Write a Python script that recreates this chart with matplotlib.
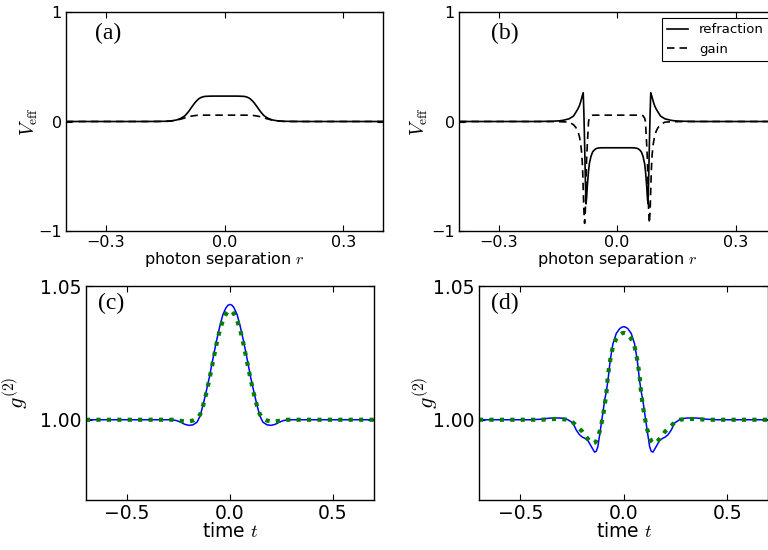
import numpy as np
import matplotlib
matplotlib.use("Agg")
import matplotlib.pyplot as plt

plt.rcParams["mathtext.fontset"] = "cm"
plt.rcParams["font.family"] = "DejaVu Sans"

# ---- panel (a): effective potential, first case ----
r_a = [-0.40, -0.25, -0.20, -0.17, -0.15, -0.14, -0.13, -0.12, -0.11, -0.10,
       -0.095, -0.09, -0.085, -0.08, -0.075, -0.07, -0.065, -0.06, -0.055, -0.05,
       -0.04, -0.03, -0.02, 0.0, 0.02, 0.03, 0.04, 0.05, 0.055, 0.06,
       0.065, 0.07, 0.075, 0.08, 0.085, 0.09, 0.095, 0.10, 0.11, 0.12,
       0.13, 0.14, 0.15, 0.17, 0.20, 0.25, 0.40]
refr_a = [0.0, 0.0, 0.0, 0.001, 0.002, 0.004, 0.008, 0.015, 0.029, 0.052,
          0.072, 0.094, 0.120, 0.145, 0.170, 0.190, 0.207, 0.218, 0.225, 0.229,
          0.231, 0.232, 0.232, 0.232, 0.232, 0.232, 0.231, 0.229, 0.225, 0.218,
          0.207, 0.190, 0.170, 0.145, 0.120, 0.094, 0.072, 0.052, 0.029, 0.015,
          0.008, 0.004, 0.002, 0.001, 0.0, 0.0, 0.0]
gain_a = [0.0, 0.0, 0.0, 0.0, 0.001, 0.003, 0.007, 0.013, 0.022, 0.033,
          0.039, 0.044, 0.048, 0.051, 0.054, 0.056, 0.057, 0.057, 0.058, 0.058,
          0.058, 0.058, 0.058, 0.058, 0.058, 0.058, 0.058, 0.058, 0.058, 0.057,
          0.057, 0.056, 0.054, 0.051, 0.048, 0.044, 0.039, 0.033, 0.022, 0.013,
          0.007, 0.003, 0.001, 0.0, 0.0, 0.0, 0.0]

# ---- panel (b): effective potential, second case ----
r_b = [-0.40, -0.20, -0.16, -0.146, -0.135, -0.121, -0.11, -0.104, -0.099, -0.095,
       -0.092, -0.089, -0.087, -0.0855, -0.084, -0.082, -0.080, -0.0785, -0.077, -0.075,
       -0.072, -0.070, -0.066, -0.062, -0.058, -0.054, -0.049, -0.04, 0.0,
       0.04, 0.049, 0.054, 0.058, 0.062, 0.066, 0.070, 0.072,
       0.075, 0.077, 0.0785, 0.080, 0.082, 0.084, 0.0855, 0.087, 0.089, 0.092,
       0.095, 0.099, 0.104, 0.11, 0.121, 0.135, 0.146, 0.16, 0.20, 0.40]
refr_b = [0.0, 0.0, 0.003, 0.006, 0.012, 0.025, 0.050, 0.085, 0.115, 0.146,
          0.180, 0.220, 0.245, 0.262, 0.10, -0.20, -0.55, -0.752, -0.70, -0.58,
          -0.45, -0.386, -0.32, -0.28, -0.262, -0.25, -0.243, -0.24, -0.24,
          -0.24, -0.243, -0.25, -0.262, -0.28, -0.32, -0.386, -0.45,
          -0.58, -0.70, -0.752, -0.55, -0.20, 0.10, 0.262, 0.245, 0.220, 0.180,
          0.146, 0.115, 0.085, 0.050, 0.025, 0.012, 0.006, 0.003, 0.0, 0.0]
gain_b = [0.0, 0.0, -0.001, -0.002, -0.003, -0.006, -0.030, -0.055, -0.09, -0.14,
          -0.20, -0.30, -0.44, -0.62, -0.80, -0.93, -0.80, -0.56, -0.35, -0.20,
          0.0, 0.03, 0.052, 0.057, 0.058, 0.058, 0.058, 0.058, 0.058,
          0.058, 0.058, 0.058, 0.058, 0.057, 0.052, 0.03, 0.0,
          -0.20, -0.35, -0.56, -0.80, -0.93, -0.80, -0.62, -0.44, -0.30, -0.20,
          -0.14, -0.09, -0.055, -0.030, -0.006, -0.003, -0.002, -0.001, 0.0, 0.0]

# ---- panel (c): g2 vs time, first case ----
t_c = [-0.70, -0.40, -0.30, -0.28, -0.26, -0.24, -0.22, -0.20, -0.18, -0.16,
       -0.145, -0.13, -0.115, -0.10, -0.08, -0.065, -0.05, -0.035, -0.02, -0.01,
       0.0, 0.01, 0.02, 0.035, 0.05, 0.065, 0.08, 0.10, 0.115, 0.13,
       0.145, 0.16, 0.18, 0.20, 0.22, 0.24, 0.26, 0.28, 0.30, 0.40, 0.70]
g2_full_c = [1.0, 1.0, 1.0, 0.99995, 0.9997, 0.9991, 0.9983, 0.9979, 0.9981, 0.9991,
             1.0015, 1.0058, 1.0108, 1.0160, 1.0240, 1.0297, 1.0348, 1.0392, 1.0418, 1.0428,
             1.0431, 1.0428, 1.0418, 1.0392, 1.0348, 1.0297, 1.0240, 1.0160, 1.0108, 1.0058,
             1.0015, 0.9991, 0.9981, 0.9979, 0.9983, 0.9991, 0.9997, 0.99995, 1.0, 1.0, 1.0]
g2_appr_c = [1.0, 1.0, 1.0, 1.0, 0.9998, 0.9996, 0.9994, 0.9994, 0.9997, 1.0005,
             1.0020, 1.0055, 1.0100, 1.0152, 1.0228, 1.0285, 1.0334, 1.0370, 1.0395, 1.0405,
             1.0408, 1.0405, 1.0395, 1.0370, 1.0334, 1.0285, 1.0228, 1.0152, 1.0100, 1.0055,
             1.0020, 1.0005, 0.9997, 0.9994, 0.9994, 0.9996, 0.9998, 1.0, 1.0, 1.0, 1.0]

# ---- panel (d): g2 vs time, second case ----
t_d = [-0.70, -0.45, -0.40, -0.36, -0.33, -0.30, -0.28, -0.27, -0.26, -0.246,
       -0.23, -0.214, -0.20, -0.189, -0.173, -0.157, -0.148, -0.141, -0.133, -0.125,
       -0.113, -0.10, -0.092, -0.084, -0.076, -0.065, -0.052, -0.036, -0.019, -0.009,
       0.0, 0.009, 0.019, 0.036, 0.052, 0.065, 0.076, 0.084, 0.092, 0.10, 0.113,
       0.125, 0.133, 0.141, 0.148, 0.157, 0.173, 0.189, 0.20, 0.214, 0.23, 0.246,
       0.26, 0.27, 0.28, 0.30, 0.33, 0.36, 0.40, 0.45, 0.70]
g2_full_d = [1.0, 1.0, 1.0002, 1.0006, 1.0007, 1.0006, 1.0003, 1.0, 0.9995, 0.9988,
             0.9962, 0.9944, 0.9935, 0.9931, 0.9922, 0.9900, 0.9888, 0.9879, 0.9882, 0.9900,
             0.9962, 1.0031, 1.0075, 1.0106, 1.0150, 1.0225, 1.0285, 1.0323, 1.0341, 1.0346,
             1.0348, 1.0346, 1.0341, 1.0323, 1.0285, 1.0225, 1.0150, 1.0106, 1.0075, 1.0031, 0.9962,
             0.9900, 0.9882, 0.9879, 0.9888, 0.9900, 0.9922, 0.9931, 0.9935, 0.9944, 0.9962, 0.9988,
             0.9995, 1.0, 1.0003, 1.0006, 1.0007, 1.0006, 1.0002, 1.0, 1.0]
g2_appr_d = [1.0, 1.0, 1.0, 1.0002, 1.0003, 1.0002, 1.0001, 1.0, 0.9997, 0.9990,
             0.9978, 0.9966, 0.9956, 0.9943, 0.9928, 0.9915, 0.9912, 0.9914, 0.9920, 0.9935,
             0.9965, 1.0015, 1.0055, 1.0100, 1.0169, 1.0225, 1.0275, 1.0303, 1.0318, 1.0323,
             1.0325, 1.0323, 1.0318, 1.0303, 1.0275, 1.0225, 1.0169, 1.0100, 1.0055, 1.0015, 0.9965,
             0.9935, 0.9920, 0.9914, 0.9912, 0.9915, 0.9928, 0.9943, 0.9956, 0.9966, 0.9978, 0.9990,
             0.9997, 1.0, 1.0001, 1.0002, 1.0003, 1.0002, 1.0, 1.0, 1.0]

veff_ticks = [-0.3, 0.0, 0.3]
veff_yticks = [-1, 0, 1]
g2_xticks = [-0.5, 0.0, 0.5]
g2_yticks = [1.00, 1.05]

fig = plt.figure(figsize=(7.68, 5.5), dpi=100)
W, H = 768.0, 550.0


def box(left, right, top, bottom):
    return [left / W, 1 - bottom / H, (right - left) / W, (bottom - top) / H]


def style(ax, size):
    ax.tick_params(direction="in", top=True, right=True, length=4, width=0.8,
                   labelsize=size, pad=3)
    for s in ax.spines.values():
        s.set_linewidth(1.0)


ax_a = fig.add_axes(box(66, 383, 12, 231))
ax_b = fig.add_axes(box(459, 775, 12, 231))
ax_c = fig.add_axes(box(86, 374, 286, 500))
ax_d = fig.add_axes(box(479, 768.5, 286, 500))

dash = (0, (4.5, 3))

ax_a.plot(r_a, refr_a, color="k", lw=1.2)
ax_a.plot(r_a, gain_a, color="k", lw=1.2, ls=dash)
ax_b.plot(r_b, refr_b, color="k", lw=1.2, label="refraction")
ax_b.plot(r_b, gain_b, color="k", lw=1.2, ls=dash, label="gain")

for ax, lab, lx, px in [(ax_a, "(a)", -0.082, 0.09), (ax_b, "(b)", -0.092, 0.1)]:
    ax.set_xlim(-0.4, 0.4)
    ax.set_ylim(-1, 1)
    ax.set_xticks(veff_ticks)
    ax.set_yticks(veff_yticks)
    style(ax, 11.5)
    ax.set_xlabel("photon separation $r$", fontsize=11.5, labelpad=0)
    ax.set_ylabel(r"$V_{\rm eff}$", fontsize=14)
    ax.yaxis.set_label_coords(lx, 0.5)
    ax.text(px, 0.9, lab, transform=ax.transAxes,
            fontsize=17, family="Liberation Serif", va="center")

leg = ax_b.legend(loc="upper right", fontsize=9.5, handlelength=1.6,
                  fancybox=False, framealpha=1, borderaxespad=0.45)
leg.get_frame().set_edgecolor("k")
leg.get_frame().set_linewidth(0.8)

for ax, t, full, appr, lab, lx in [(ax_c, t_c, g2_full_c, g2_appr_c, "(c)", -0.195),
                                   (ax_d, t_d, g2_full_d, g2_appr_d, "(d)", -0.135)]:
    ax.plot(t, full, color="b", lw=1.1)
    ax.plot(t, appr, color="#007f00", lw=3.0, ls=(0, (1, 1.5)))
    ax.set_xlim(-0.7, 0.7)
    ax.set_ylim(0.97, 1.05)
    ax.set_xticks(g2_xticks)
    ax.set_yticks(g2_yticks)
    ax.set_yticklabels(["1.00", "1.05"])
    style(ax, 13.5)
    ax.set_xlabel("time $t$", fontsize=13.5, labelpad=-1)
    ax.set_ylabel(r"$g^{(2)}$", fontsize=16)
    ax.yaxis.set_label_coords(lx, 0.5)
    ax.text(0.04, 0.92, lab, transform=ax.transAxes,
            fontsize=17, family="Liberation Serif", va="center")

fig.savefig("out.png", dpi=100)
